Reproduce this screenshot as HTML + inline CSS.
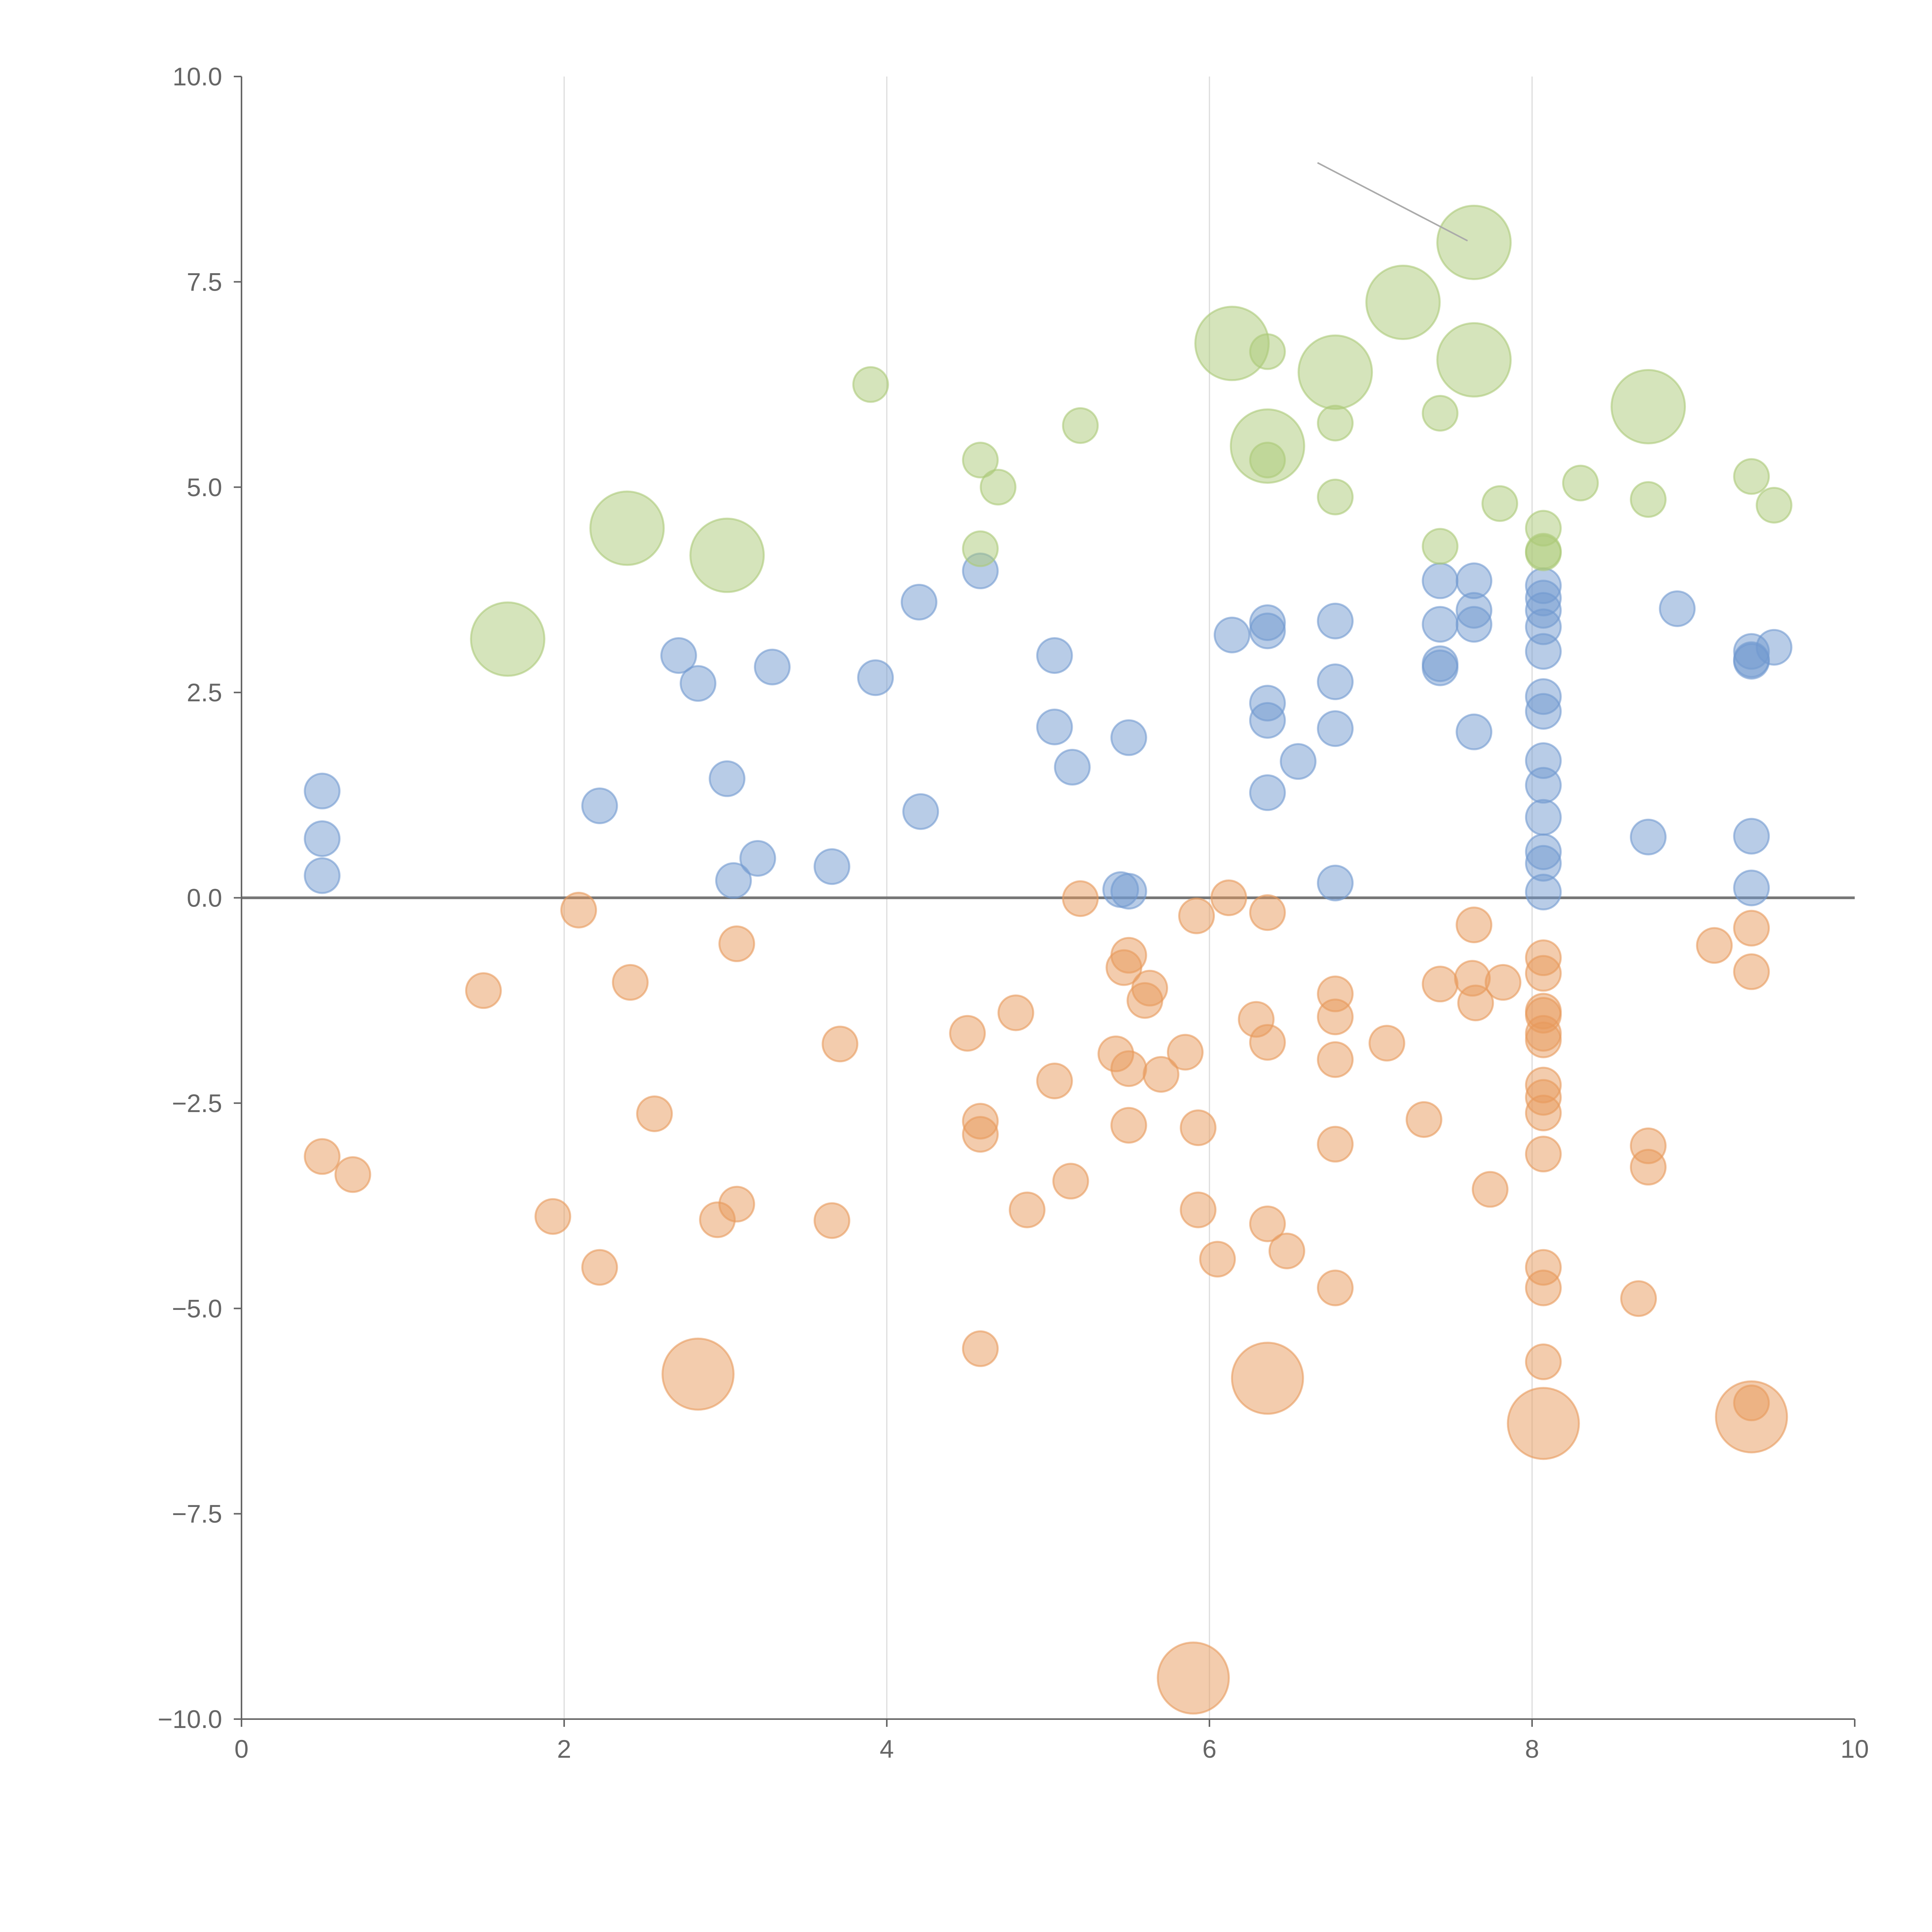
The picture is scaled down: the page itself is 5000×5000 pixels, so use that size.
<!DOCTYPE html>
<html><head><meta charset="utf-8"><style>html,body{margin:0;padding:0;background:#fff}svg{display:block}</style></head>
<body>
<svg id="chart" width="5000" height="5000" viewBox="0 0 5000 5000" xmlns="http://www.w3.org/2000/svg" font-family="Liberation Sans, sans-serif"></svg>
<script>
const xTicks=[0,2,4,6,8,10];
const yTicks=[10,7.5,5,2.5,0,-2.5,-5,-7.5,-10];
const yTickLabels=["10.0","7.5","5.0","2.5","0.0","\u22122.5","\u22125.0","\u22127.5","\u221210.0"];
const blueX=[0.5,0.5,0.5,2.22,2.71,2.83,3.01,3.05,3.2,3.29,3.66,3.93,4.2,4.21,4.58,5.04,5.04,5.15,5.45,5.5,5.5,6.14,6.36,6.36,6.36,6.36,6.36,6.55,6.78,6.78,6.78,6.78,7.43,7.43,7.43,7.43,7.64,7.64,7.64,7.64,8.07,8.07,8.07,8.07,8.07,8.07,8.07,8.07,8.07,8.07,8.07,8.07,8.07,8.72,8.9,9.36,9.36,9.36,9.36,9.36,9.5];
const blueY=[1.3,0.72,0.27,1.12,2.95,2.61,1.45,0.21,0.48,2.81,0.38,2.68,3.6,1.05,3.98,2.95,2.08,1.59,0.1,0.08,1.95,3.2,3.35,3.25,2.37,2.16,1.28,1.66,3.37,2.63,2.06,0.18,3.86,3.33,2.85,2.8,3.86,3.5,3.33,2.02,3.8,3.65,3.5,3.3,3.0,2.45,2.27,1.67,1.37,0.98,0.56,0.42,0.07,0.74,3.52,3.0,2.9,2.88,0.75,0.12,3.05];
const orangeX=[0.5,0.69,1.5,1.93,2.09,2.22,2.41,2.56,2.95,3.07,3.07,3.66,3.71,4.5,4.58,4.58,4.58,4.8,4.87,5.04,5.14,5.2,5.42,5.47,5.5,5.5,5.5,5.6,5.63,5.7,5.85,5.92,5.93,5.93,6.05,6.12,6.29,6.36,6.36,6.36,6.48,6.78,6.78,6.78,6.78,6.78,7.1,7.33,7.43,7.63,7.64,7.65,7.74,7.82,8.07,8.07,8.07,8.07,8.07,8.07,8.07,8.07,8.07,8.07,8.07,8.07,8.07,8.66,8.72,8.72,9.13,9.36,9.36,9.36];
const orangeY=[-3.15,-3.37,-1.13,-3.88,-0.15,-4.5,-1.03,-2.63,-3.92,-0.56,-3.73,-3.93,-1.78,-1.65,-2.72,-2.88,-5.49,-1.4,-3.8,-2.23,-3.45,-0.01,-1.9,-0.85,-0.7,-2.08,-2.77,-1.25,-1.1,-2.15,-1.88,-0.22,-2.8,-3.8,-4.4,0.0,-1.48,-0.18,-1.76,-3.97,-4.3,-1.17,-1.45,-1.97,-3.0,-4.75,-1.77,-2.7,-1.05,-0.98,-0.33,-1.28,-3.55,-1.03,-0.73,-0.92,-1.38,-1.43,-1.65,-1.73,-2.28,-2.43,-2.62,-3.12,-4.5,-4.75,-5.65,-4.88,-3.02,-3.28,-0.58,-0.37,-0.9,-6.15];
const orangeBigX=[2.83,6.36,8.07,9.36,5.9];
const orangeBigY=[-5.8,-5.85,-6.4,-6.32,-9.5];
const greenX=[3.9,4.58,4.58,4.69,5.2,6.36,6.36,6.78,6.78,7.43,7.43,7.8,8.07,8.07,8.07,8.3,8.72,9.36,9.5];
const greenY=[6.25,5.33,4.25,5.0,5.75,6.65,5.33,5.78,4.88,5.9,4.28,4.8,4.5,4.22,4.2,5.05,4.85,5.13,4.78];
const greenBigX=[1.65,2.39,3.01,6.14,6.36,6.78,7.2,7.64,7.64,8.72];
const greenBigY=[3.15,4.5,4.17,6.75,5.5,6.4,7.25,7.98,6.55,5.98];

const NS="http://www.w3.org/2000/svg";
const svg=document.getElementById('chart');
const X0=625,X1=4800,Y0=4449,Y1=198;
const sx=v=>X0+(v-0)/(10-0)*(X1-X0);
const sy=v=>Y0-(v-(-10))/(20)*(Y0-Y1);
function el(t,a,p){const e=document.createElementNS(NS,t);for(const k in a)e.setAttribute(k,a[k]);(p||svg).appendChild(e);return e;}

const grid=el('g',{});


[2,4,6,8].forEach(v=>{const l=el('line',{x1:sx(v),x2:sx(v),y1:Y1,y2:Y0,stroke:'#dcdcdc','stroke-width':3},grid);

});

const zl=el('line',{x1:X0,x2:X1,y1:sy(0),y2:sy(0),stroke:'#777','stroke-width':7});



function series(xs,ys,r,fill,name){const g=el('g',{});


xs.forEach((x,i)=>{const c=el('circle',{cx:sx(x),cy:sy(ys[i]),r:r,fill:fill,'fill-opacity':0.5,stroke:fill,'stroke-opacity':0.6,'stroke-width':5},g);

});}
series(blueX,blueY,45,'#7199d0','series-blue');
series(orangeX,orangeY,45,'#e89a5c','series-orange');
series(orangeBigX,orangeBigY,92,'#e89a5c','series-orange-large');
series(greenX,greenY,45,'#acca78','series-green');
series(greenBigX,greenBigY,95,'#acca78','series-green-large');

const ld=el('line',{x1:sx(6.67),y1:sy(8.95),x2:sx(7.6),y2:sy(8.0),stroke:'#aaa','stroke-width':4});



const ax=el('g',{});


el('line',{x1:X0,x2:X0,y1:Y1,y2:Y0,stroke:'#666','stroke-width':4},ax);
el('line',{x1:X0,x2:X1,y1:Y0,y2:Y0,stroke:'#666','stroke-width':4},ax);
xTicks.forEach(v=>{el('line',{x1:sx(v),x2:sx(v),y1:Y0,y2:Y0+20,stroke:'#666','stroke-width':4},ax);
const t=el('text',{x:sx(v),y:Y0+100,'text-anchor':'middle','font-size':66,fill:'#666'},ax);t.textContent=v;

});
yTicks.forEach((v,i)=>{el('line',{x1:X0-20,x2:X0,y1:sy(v),y2:sy(v),stroke:'#666','stroke-width':4},ax);
const t=el('text',{x:X0-50,y:sy(v)+23,'text-anchor':'end','font-size':66,fill:'#666'},ax);t.textContent=yTickLabels[i];

});
</script>
</body></html>
